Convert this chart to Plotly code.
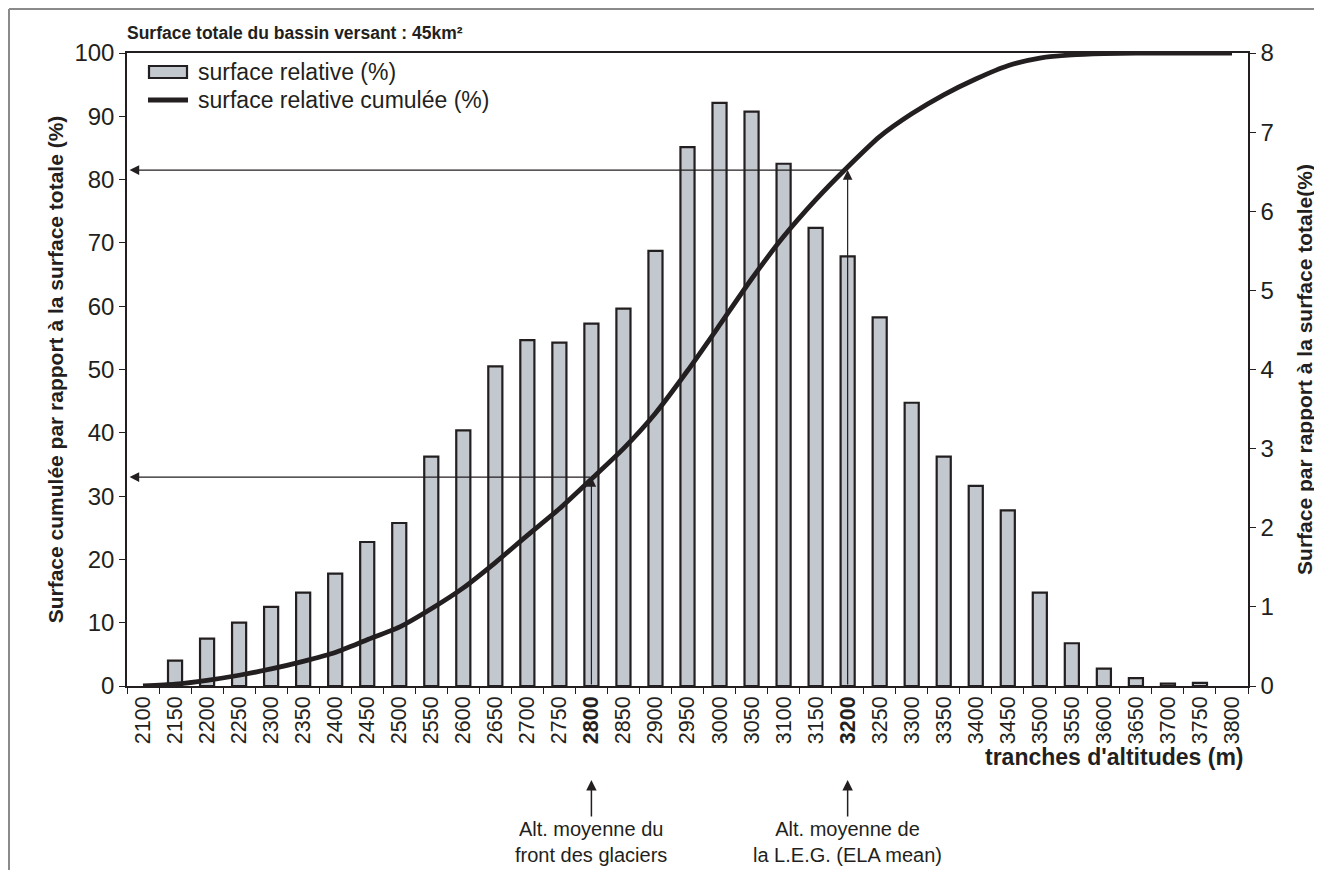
import plotly.graph_objects as go

# ---------------- data ----------------
altitudes = ["2100", "2150", "2200", "2250", "2300", "2350", "2400", "2450", "2500",
             "2550", "2600", "2650", "2700", "2750", "2800", "2850", "2900", "2950",
             "3000", "3050", "3100", "3150", "3200", "3250", "3300", "3350", "3400",
             "3450", "3500", "3550", "3600", "3650", "3700", "3750", "3800"]

surface_relative = [None, 0.32, 0.60, 0.80, 1.00, 1.18, 1.42, 1.82, 2.06,
                    2.90, 3.23, 4.04, 4.37, 4.34, 4.58, 4.77, 5.50, 6.81,
                    7.37, 7.26, 6.60, 5.79, 5.43, 4.66, 3.58, 2.90, 2.53,
                    2.22, 1.18, 0.54, 0.22, 0.10, 0.03, 0.04, None]

surface_cumulee = [0.0, 0.3, 0.9, 1.7, 2.7, 3.9, 5.3, 7.3, 9.3,
                   12.2, 15.5, 19.5, 23.8, 28.0, 32.7, 37.5, 43.1, 49.8,
                   57.0, 64.3, 71.0, 76.8, 82.0, 86.8, 90.4, 93.4, 95.9,
                   98.0, 99.2, 99.7, 99.9, 100.0, 100.0, 100.0, 100.0]

bold_ticks = ["2800", "3200"]
ref_altitudes = ["2800", "3200"]
ref_levels = [33.0, 81.5]
ref_labels = ["Alt. moyenne du<br>front des glaciers",
              "Alt. moyenne de<br>la L.E.G. (ELA mean)"]

legend_labels = ["surface relative (%)", "surface relative cumulée (%)"]
title_text = "Surface totale du bassin versant : 45km²"
left_title = "Surface cumulée par rapport à la surface totale (%)"
right_title = "Surface par rapport à la surface totale(%)"
x_title = "tranches d'altitudes (m)"

# ---------------- style ----------------
FONT = "Liberation Sans, Arial, Helvetica, sans-serif"
INK = "#231f20"
BAR_FILL = "#c3c7ce"
LINE_W = 4.8

OFF = 8  # page body margin
W, H = 1314, 862
ML, MR, MT, MB = 119, 74, 45, 184

fig = go.Figure()

fig.add_trace(go.Bar(
    x=altitudes, y=surface_relative, name=legend_labels[0],
    width=0.44, marker=dict(color=BAR_FILL, line=dict(color=INK, width=2.2)),
    yaxis="y", showlegend=False,
))

fig.add_trace(go.Scatter(
    x=altitudes, y=surface_cumulee, name=legend_labels[1],
    mode="lines", line=dict(color=INK, width=LINE_W, shape="spline", smoothing=0.6),
    yaxis="y2", cliponaxis=False, showlegend=False,
))

ticktext = [f"<b>{a}</b>" if a in bold_ticks else a for a in altitudes]

fig.update_layout(
    width=W, height=H, autosize=False,
    margin=dict(l=ML, r=MR, t=MT, b=MB, pad=0, autoexpand=False),
    paper_bgcolor="white", plot_bgcolor="white",
    font=dict(family=FONT, color=INK, size=21),
    showlegend=False,
    bargap=0.5,
    xaxis=dict(
        type="category", tickmode="array", tickvals=altitudes, ticktext=ticktext,
        tickangle=-90, tickson="boundaries", ticks="outside", ticklen=6,
        tickcolor=INK, tickwidth=1.2, showline=True, linecolor=INK, linewidth=1.5,
        mirror=True, showgrid=False, zeroline=False,
        tickfont=dict(size=21.5, color=INK, family=FONT),
        range=[-0.5, len(altitudes) - 0.5],
    ),
    yaxis=dict(
        side="right", range=[0, 8], dtick=1, tick0=0, ticks="outside", ticklen=6,
        tickcolor=INK, showline=True, linecolor=INK, linewidth=1.5,
        showgrid=False, zeroline=False,
        tickfont=dict(size=24, color=INK, family=FONT),
        title=dict(text=f"<b>{right_title}</b>", font=dict(size=21, color=INK, family=FONT),
                   standoff=24),
    ),
    yaxis2=dict(
        overlaying="y", side="left", range=[0, 100], dtick=10, tick0=0,
        ticks="outside", ticklen=6, tickcolor=INK, showline=True, linecolor=INK,
        linewidth=1.5, showgrid=False, zeroline=False,
        tickfont=dict(size=24, color=INK, family=FONT),
        title=dict(text=f"<b>{left_title}</b>", font=dict(size=21, color=INK, family=FONT),
                   standoff=5),
    ),
)

plot_h = H - MT - MB
plot_w = W - ML - MR

def py(pixel_y):
    return (H - MB - (pixel_y - OFF)) / plot_h

def px(pixel_x):
    return ((pixel_x - OFF) - ML) / plot_w

annotations = []
# title
annotations.append(dict(
    text=f"<b>{title_text}</b>", xref="paper", yref="paper", x=px(125), y=py(33),
    xanchor="left", yanchor="middle", showarrow=False,
    font=dict(size=17.5, color=INK, family=FONT)))
# x axis title
annotations.append(dict(
    text=f"<b>{x_title}</b>", xref="paper", yref="paper", x=px(1246), y=py(757),
    xanchor="right", yanchor="middle", showarrow=False,
    font=dict(size=23, color=INK, family=FONT)))

# custom legend
leg_y = [72, 100]
for lab, yy in zip(legend_labels, leg_y):
    annotations.append(dict(
        text=lab, xref="paper", yref="paper", x=px(196), y=py(yy),
        xanchor="left", yanchor="middle", showarrow=False,
        font=dict(size=23, color=INK, family=FONT)))
fig.add_shape(type="rect", xref="paper", yref="paper",
              x0=px(149), x1=px(187), y0=py(66), y1=py(78),
              fillcolor=BAR_FILL, line=dict(color=INK, width=2.2))
fig.add_shape(type="line", xref="paper", yref="paper",
              x0=px(148), x1=px(188), y0=py(100), y1=py(100),
              line=dict(color=INK, width=LINE_W))

for alt, lvl, lab in zip(ref_altitudes, ref_levels, ref_labels):
    i = altitudes.index(alt)
    # vertical arrow from axis to the curve
    annotations.append(dict(
        x=i, y=lvl, xref="x", yref="y2", ax=i, ay=0, axref="x", ayref="y2",
        text="", showarrow=True, arrowhead=2, arrowsize=1.6, arrowwidth=1.2,
        arrowcolor=INK, standoff=0, startstandoff=0))
    # horizontal arrow from curve to left axis
    annotations.append(dict(
        x=-0.42, y=lvl, xref="x", yref="y2", ax=i, ay=lvl, axref="x", ayref="y2",
        text="", showarrow=True, arrowhead=2, arrowsize=1.6, arrowwidth=1.2,
        arrowcolor=INK, standoff=0, startstandoff=0))
    # label below the axis with arrow
    annotations.append(dict(
        x=i, y=py(780), xref="x", yref="paper", ax=0, ay=62,
        text=lab, showarrow=True, arrowhead=2, arrowsize=1.4, arrowwidth=1.5,
        arrowcolor=INK, standoff=0, align="center",
        font=dict(size=20, color=INK, family=FONT)))

fig.update_layout(annotations=annotations)

# outer frame (gray, left and top edges)
fig.add_shape(type="line", xref="paper", yref="paper",
              x0=px(9), x1=px(9), y0=py(9), y1=py(880),
              line=dict(color="#8a8a8a", width=2))
fig.add_shape(type="line", xref="paper", yref="paper",
              x0=px(9), x1=px(1340), y0=py(9), y1=py(9),
              line=dict(color="#8a8a8a", width=2))

fig.write_html("out.html")
